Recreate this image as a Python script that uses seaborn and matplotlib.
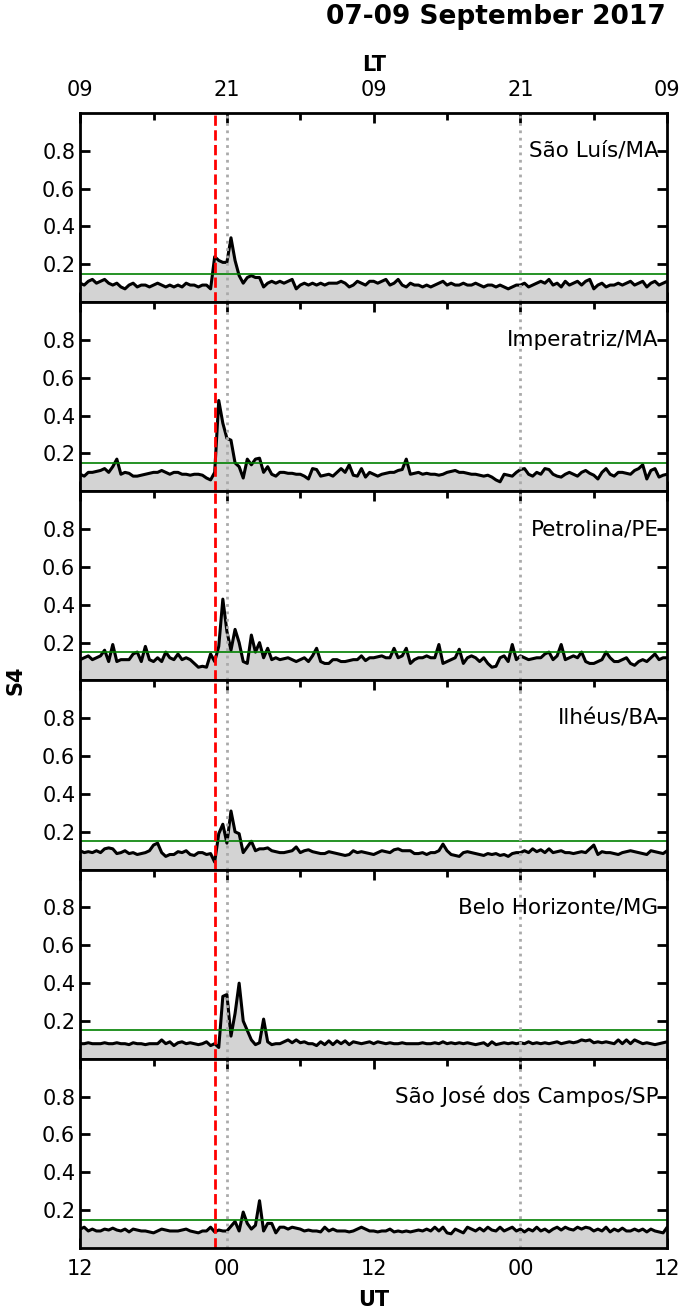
import numpy as np
import matplotlib
matplotlib.use("Agg")
import matplotlib.pyplot as plt
from matplotlib.ticker import MultipleLocator
import seaborn as sns

sns.set_style("ticks")
plt.rcParams['font.family'] = ['DejaVu Sans']
plt.rcParams.update({'text.color': 'black', 'axes.labelcolor': 'black',
                     'xtick.color': 'black', 'ytick.color': 'black',
                     'axes.edgecolor': 'black'})

# time axis: hours after 12 UT on 07 Sep 2017, one sample every 20 min
hours = np.arange(145) / 3.0

stations = ['São Luís/MA', 'Imperatriz/MA', 'Petrolina/PE', 'Ilhéus/BA',
            'Belo Horizonte/MG', 'São José dos Campos/SP']

ut_ticks = [0, 12, 24, 36, 48]
ut_labels = ['12', '00', '12', '00', '12']
lt_labels = ['09', '21', '09', '21', '09']
midnight_lines = [12, 36]
onset_hour = 11.0     # 23 UT
s4_threshold = 0.15

s4_sao_luis = [
    0.10, 0.09, 0.11, 0.12, 0.10, 0.11, 0.12, 0.10, 0.09, 0.10, 0.08, 0.07,
    0.09, 0.10, 0.08, 0.09, 0.09, 0.08, 0.09, 0.10, 0.09, 0.08, 0.09, 0.08,
    0.09, 0.08, 0.10, 0.09, 0.09, 0.08, 0.09, 0.09, 0.07, 0.24, 0.22, 0.21,
    0.21, 0.34, 0.22, 0.14, 0.10, 0.13, 0.14, 0.13, 0.13, 0.08, 0.10, 0.11,
    0.10, 0.11, 0.10, 0.11, 0.12, 0.07, 0.09, 0.10, 0.09, 0.10, 0.09, 0.10,
    0.09, 0.10, 0.10, 0.10, 0.11, 0.10, 0.08, 0.09, 0.11, 0.10, 0.09, 0.11,
    0.11, 0.10, 0.11, 0.12, 0.09, 0.10, 0.12, 0.09, 0.08, 0.10, 0.09, 0.09,
    0.08, 0.09, 0.08, 0.09, 0.10, 0.11, 0.09, 0.10, 0.09, 0.09, 0.10, 0.09,
    0.09, 0.10, 0.09, 0.08, 0.09, 0.09, 0.08, 0.09, 0.08, 0.07, 0.08, 0.09,
    0.09, 0.10, 0.08, 0.09, 0.10, 0.11, 0.10, 0.12, 0.09, 0.10, 0.08, 0.11,
    0.09, 0.10, 0.11, 0.09, 0.11, 0.12, 0.07, 0.09, 0.10, 0.08, 0.09, 0.09,
    0.10, 0.09, 0.10, 0.11, 0.09, 0.10, 0.11, 0.08, 0.10, 0.11, 0.09, 0.10, 0.11]

s4_imperatriz = [
    0.09, 0.08, 0.10, 0.10, 0.105, 0.11, 0.12, 0.10, 0.13, 0.17, 0.09, 0.10,
    0.095, 0.08, 0.08, 0.085, 0.09, 0.095, 0.10, 0.10, 0.11, 0.10, 0.09, 0.10,
    0.10, 0.09, 0.09, 0.085, 0.09, 0.09, 0.085, 0.07, 0.06, 0.10, 0.48, 0.36,
    0.28, 0.27, 0.15, 0.13, 0.07, 0.17, 0.14, 0.17, 0.175, 0.10, 0.13, 0.09,
    0.08, 0.10, 0.10, 0.095, 0.095, 0.09, 0.09, 0.08, 0.065, 0.12, 0.115, 0.08,
    0.085, 0.09, 0.08, 0.10, 0.12, 0.10, 0.14, 0.085, 0.08, 0.12, 0.075, 0.10,
    0.09, 0.08, 0.09, 0.095, 0.10, 0.10, 0.11, 0.115, 0.17, 0.09, 0.095, 0.10,
    0.09, 0.095, 0.09, 0.09, 0.085, 0.09, 0.10, 0.105, 0.11, 0.10, 0.10, 0.095,
    0.09, 0.09, 0.085, 0.08, 0.085, 0.075, 0.06, 0.05, 0.09, 0.085, 0.08, 0.10,
    0.115, 0.12, 0.09, 0.08, 0.10, 0.09, 0.12, 0.115, 0.09, 0.08, 0.075, 0.09,
    0.10, 0.09, 0.08, 0.10, 0.11, 0.095, 0.085, 0.065, 0.10, 0.12, 0.09, 0.08,
    0.10, 0.10, 0.095, 0.09, 0.11, 0.12, 0.14, 0.065, 0.11, 0.12, 0.075, 0.085, 0.09]

s4_petrolina = [
    0.11, 0.12, 0.13, 0.11, 0.12, 0.13, 0.16, 0.10, 0.19, 0.10, 0.11, 0.11,
    0.11, 0.14, 0.15, 0.10, 0.18, 0.11, 0.10, 0.12, 0.10, 0.15, 0.12, 0.11,
    0.14, 0.11, 0.12, 0.11, 0.09, 0.07, 0.075, 0.07, 0.14, 0.10, 0.18, 0.43,
    0.26, 0.16, 0.27, 0.20, 0.10, 0.09, 0.24, 0.15, 0.20, 0.12, 0.17, 0.11,
    0.12, 0.11, 0.115, 0.12, 0.11, 0.10, 0.11, 0.12, 0.10, 0.13, 0.17, 0.10,
    0.09, 0.09, 0.11, 0.11, 0.10, 0.10, 0.105, 0.11, 0.11, 0.13, 0.105, 0.12,
    0.12, 0.125, 0.13, 0.12, 0.12, 0.17, 0.12, 0.13, 0.17, 0.09, 0.11, 0.12,
    0.12, 0.13, 0.12, 0.12, 0.19, 0.09, 0.10, 0.11, 0.12, 0.165, 0.09, 0.12,
    0.13, 0.12, 0.10, 0.12, 0.09, 0.07, 0.075, 0.12, 0.13, 0.10, 0.19, 0.11,
    0.13, 0.12, 0.11, 0.115, 0.12, 0.12, 0.14, 0.15, 0.11, 0.13, 0.19, 0.11,
    0.12, 0.13, 0.12, 0.15, 0.10, 0.09, 0.09, 0.10, 0.11, 0.15, 0.12, 0.10,
    0.10, 0.11, 0.12, 0.09, 0.08, 0.10, 0.11, 0.10, 0.12, 0.14, 0.11, 0.12, 0.12]

s4_ilheus = [
    0.10, 0.09, 0.095, 0.09, 0.10, 0.09, 0.11, 0.115, 0.11, 0.085, 0.09, 0.10,
    0.085, 0.09, 0.08, 0.085, 0.09, 0.10, 0.13, 0.14, 0.09, 0.07, 0.08, 0.08,
    0.095, 0.09, 0.10, 0.08, 0.075, 0.09, 0.09, 0.08, 0.085, 0.04, 0.19, 0.24,
    0.14, 0.31, 0.20, 0.19, 0.09, 0.12, 0.15, 0.10, 0.11, 0.11, 0.115, 0.10,
    0.095, 0.09, 0.09, 0.095, 0.10, 0.12, 0.09, 0.10, 0.105, 0.095, 0.09, 0.085,
    0.085, 0.095, 0.09, 0.085, 0.08, 0.075, 0.08, 0.10, 0.09, 0.095, 0.09, 0.085,
    0.08, 0.09, 0.10, 0.095, 0.09, 0.105, 0.11, 0.10, 0.10, 0.10, 0.085, 0.085,
    0.09, 0.08, 0.09, 0.09, 0.10, 0.135, 0.10, 0.08, 0.075, 0.07, 0.09, 0.095,
    0.09, 0.085, 0.08, 0.075, 0.085, 0.08, 0.085, 0.075, 0.08, 0.07, 0.085, 0.09,
    0.09, 0.10, 0.09, 0.11, 0.095, 0.105, 0.09, 0.11, 0.09, 0.095, 0.10, 0.09,
    0.09, 0.085, 0.09, 0.095, 0.09, 0.11, 0.13, 0.08, 0.095, 0.09, 0.09, 0.085,
    0.08, 0.09, 0.095, 0.10, 0.095, 0.09, 0.085, 0.08, 0.10, 0.095, 0.09, 0.085, 0.10]

s4_belo_horizonte = [
    0.08, 0.08, 0.085, 0.08, 0.08, 0.08, 0.085, 0.08, 0.08, 0.085, 0.08, 0.08,
    0.075, 0.085, 0.08, 0.08, 0.075, 0.08, 0.08, 0.08, 0.10, 0.08, 0.09, 0.07,
    0.085, 0.09, 0.08, 0.085, 0.08, 0.075, 0.08, 0.09, 0.07, 0.08, 0.06, 0.33,
    0.34, 0.12, 0.24, 0.40, 0.20, 0.15, 0.10, 0.075, 0.085, 0.21, 0.09, 0.075,
    0.08, 0.08, 0.09, 0.10, 0.085, 0.10, 0.085, 0.09, 0.08, 0.08, 0.07, 0.09,
    0.075, 0.095, 0.075, 0.095, 0.08, 0.095, 0.075, 0.09, 0.085, 0.08, 0.085, 0.09,
    0.08, 0.09, 0.085, 0.08, 0.085, 0.08, 0.08, 0.085, 0.08, 0.08, 0.08, 0.08,
    0.085, 0.08, 0.08, 0.085, 0.08, 0.09, 0.08, 0.085, 0.08, 0.085, 0.08, 0.085,
    0.08, 0.075, 0.08, 0.085, 0.07, 0.09, 0.075, 0.08, 0.085, 0.08, 0.085, 0.08,
    0.085, 0.08, 0.09, 0.08, 0.085, 0.08, 0.085, 0.08, 0.085, 0.09, 0.08, 0.085,
    0.09, 0.085, 0.09, 0.10, 0.095, 0.10, 0.085, 0.09, 0.085, 0.09, 0.085, 0.08,
    0.10, 0.08, 0.10, 0.08, 0.10, 0.09, 0.08, 0.085, 0.08, 0.075, 0.08, 0.085, 0.09]

s4_sao_jose = [
    0.10, 0.11, 0.09, 0.10, 0.09, 0.09, 0.10, 0.095, 0.105, 0.095, 0.09, 0.10,
    0.085, 0.10, 0.095, 0.09, 0.09, 0.085, 0.08, 0.09, 0.10, 0.095, 0.09, 0.09,
    0.09, 0.095, 0.10, 0.09, 0.085, 0.08, 0.09, 0.09, 0.11, 0.085, 0.095, 0.09,
    0.09, 0.115, 0.14, 0.09, 0.19, 0.13, 0.10, 0.12, 0.25, 0.09, 0.13, 0.13,
    0.08, 0.11, 0.11, 0.10, 0.11, 0.105, 0.10, 0.09, 0.095, 0.09, 0.09, 0.085,
    0.11, 0.09, 0.10, 0.09, 0.09, 0.09, 0.085, 0.09, 0.10, 0.11, 0.10, 0.09,
    0.09, 0.085, 0.09, 0.09, 0.10, 0.085, 0.09, 0.085, 0.09, 0.085, 0.09, 0.095,
    0.09, 0.10, 0.09, 0.11, 0.09, 0.11, 0.08, 0.075, 0.10, 0.09, 0.08, 0.11,
    0.10, 0.09, 0.105, 0.09, 0.11, 0.095, 0.09, 0.11, 0.09, 0.10, 0.11, 0.09,
    0.10, 0.085, 0.10, 0.09, 0.11, 0.09, 0.10, 0.085, 0.10, 0.11, 0.095, 0.11,
    0.10, 0.095, 0.11, 0.10, 0.11, 0.105, 0.09, 0.10, 0.09, 0.11, 0.085, 0.10,
    0.09, 0.105, 0.09, 0.09, 0.10, 0.09, 0.10, 0.085, 0.10, 0.09, 0.085, 0.08, 0.11]

series = [s4_sao_luis, s4_imperatriz, s4_petrolina, s4_ilheus,
          s4_belo_horizonte, s4_sao_jose]

fig = plt.figure(figsize=(6.85, 13.13), dpi=100)
axes = fig.subplots(6, 1)
fig.subplots_adjust(left=0.117, right=0.974, top=0.914, bottom=0.0495, hspace=0)

for i, (ax, name, vals) in enumerate(zip(axes, stations, series)):
    ax.fill_between(hours, 0, vals, color='#d3d3d3', lw=0)
    sns.lineplot(x=hours, y=vals, ax=ax, color='black', lw=2.2,
                 solid_joinstyle='round')
    ax.axhline(s4_threshold, color='green', lw=1.2)
    for m in midnight_lines:
        ax.axvline(m, color='#aaaaaa', lw=2, ls=':')
    ax.axvline(onset_hour, color='red', lw=2, ls='--')

    ax.set_xlim(0, 48)
    ax.set_ylim(0, 1.0)
    ax.set_yticks([0.2, 0.4, 0.6, 0.8])
    ax.set_xticks(ut_ticks)
    ax.xaxis.set_minor_locator(MultipleLocator(6))
    ax.set_ylabel('')
    ax.tick_params(which='both', direction='in', top=True, right=True,
                   width=2, labelsize=15)
    ax.tick_params(which='major', length=7.5)
    ax.tick_params(which='minor', length=5)
    for sp in ax.spines.values():
        sp.set_linewidth(2)

    ax.text(0.985, 0.8, name, transform=ax.transAxes, ha='right',
            va='center', fontsize=15.5)

    if i == 0:
        ax.set_xticklabels(lt_labels)
        ax.tick_params(axis='x', labeltop=True, labelbottom=False, pad=9)
        ax.xaxis.set_label_position('top')
        ax.set_xlabel('LT', fontsize=15, fontweight='bold', labelpad=7)
    elif i == len(axes) - 1:
        ax.set_xticklabels(ut_labels)
        ax.tick_params(axis='x', pad=8)
        ax.set_xlabel('UT', fontsize=15, fontweight='bold', labelpad=8)
    else:
        ax.set_xticklabels([])

fig.text(0.022, 0.482, 'S4', rotation=90, ha='center', va='center',
         fontsize=15, fontweight='bold')
fig.text(0.972, 0.997, '07-09 September 2017', ha='right', va='top',
         fontsize=19, fontweight='bold')

fig.savefig('out.png', dpi=100)
